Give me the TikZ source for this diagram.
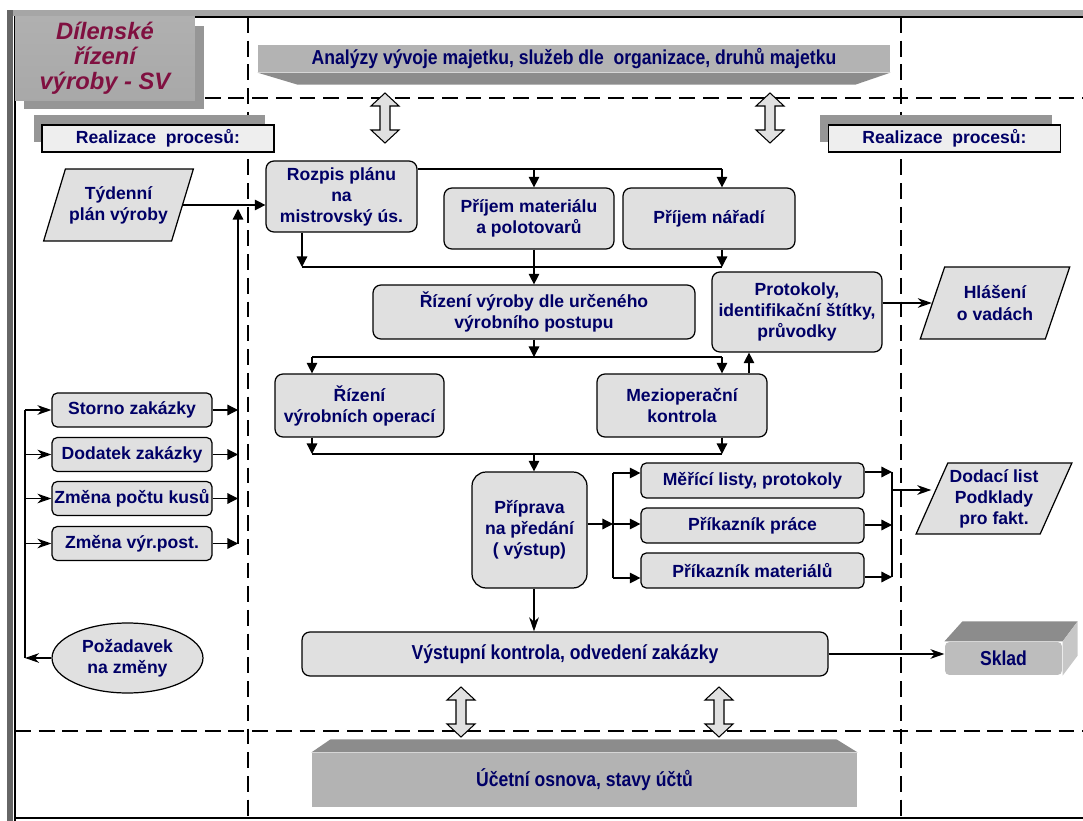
\documentclass[tikz,border=0pt]{standalone}
\usepackage{fontspec}
\setmainfont{Liberation Sans}
\newfontfamily\narrowsans[FakeStretch=0.87]{Liberation Sans}
\usepackage{tikz}
\usetikzlibrary{shapes.geometric, arrows.meta, calc, shadows}

\definecolor{textnavy}{RGB}{0,0,102}
\definecolor{titlered}{RGB}{128,16,64}
\definecolor{boxgray}{RGB}{224,224,224}
\definecolor{labelgray}{RGB}{238,238,238}
\definecolor{slabgray}{RGB}{179,179,179}
\definecolor{bevelgray}{RGB}{140,140,140}
\definecolor{shadowgray}{RGB}{150,150,150}

\begin{document}
\begin{tikzpicture}[
  x=0.02cm, y=-0.02cm,
  line width=0.7pt,
  every node/.style={font=\fontsize{10}{12}\selectfont\bfseries, text=textnavy},
  proc/.style={rectangle, draw, fill=boxgray, rounded corners=4.5pt, align=center, inner sep=1pt},
  smallproc/.style={proc, rounded corners=3pt, minimum width=3.2cm, minimum height=0.68cm},
  listproc/.style={proc, rounded corners=3pt, minimum width=4.46cm, minimum height=0.7cm},
  datain/.style={trapezium, trapezium left angle=63, trapezium right angle=117, trapezium stretches=true, draw, fill=boxgray, align=center, inner sep=1pt},
  realbox/.style={rectangle, draw, fill=labelgray, minimum width=4.64cm, minimum height=0.54cm, inner sep=0pt, general shadow={fill=shadowgray, shadow xshift=-0.17cm, shadow yshift=0.2cm}},
  titlebox/.style={rectangle, minimum width=3.6cm, minimum height=1.62cm, top color=gray!62, middle color=gray!24, bottom color=gray!68, align=center, text=titlered, font=\fontsize{13.5}{14.2}\selectfont\bfseries\itshape, general shadow={fill=shadowgray, shadow xshift=0.18cm, shadow yshift=-0.18cm}},
  slab/.style={rectangle, fill=slabgray, inner sep=0pt, font=\narrowsans\fontsize{11.5}{13}\selectfont\bfseries},
  bevel/.style={fill=bevelgray},
  divider/.style={line width=1.7pt, dash pattern=on 9pt off 4.5pt},
  arr/.style={-{Triangle[length=6pt,width=6pt]}},
  oarr/.style={-{Stealth[length=8pt,width=5.5pt,inset=2.5pt]}},
  updown/.pic={\draw[fill=boxgray, line width=0.6pt] (0,-25) -- (14,-12) -- (5,-12) -- (5,12) -- (14,12) -- (0,25) -- (-14,12) -- (-5,12) -- (-5,-12) -- (-14,-12) -- cycle;}
]
\useasboundingbox (0,0) rectangle (1083,821);

\fill[black!35] (7,10) rectangle (1083,16);
\fill[black!60] (7,10) rectangle (13,821);
\draw[line width=1.2pt] (15,821) -- (15,17) -- (1083,17);
\draw[line width=1.6pt] (15,818) -- (1083,818);

\draw[divider] (15,98) -- (1083,98);
\draw[divider] (15,731) -- (1083,731);
\draw[divider] (248,17) -- (248,818);
\draw[divider] (901,17) -- (901,818);

\node[titlebox] (title) at (105,58.5) {Dílenské\\řízení\\výroby - SV};

\node[slab, minimum width=12.64cm, minimum height=0.54cm] (analyzy) at (574,58.5) {Analýzy vývoje majetku, služeb dle\ \ organizace, druhů majetku};
\fill[bevel] (analyzy.south west) -- (analyzy.south east) -- ($(analyzy.south east)+(-35,12)$) -- ($(analyzy.south west)+(40,12)$) -- cycle;

\node[slab, minimum width=10.9cm, minimum height=1.08cm] (ucetni) at (584.5,780) {Účetní osnova, stavy účtů};
\fill[bevel] (ucetni.north west) -- ($(ucetni.north west)+(19,-13)$) -- ($(ucetni.north east)+(-21,-13)$) -- (ucetni.north east) -- cycle;

\pic at (385,118) {updown};
\pic at (770,118) {updown};
\pic at (461,712) {updown};
\pic at (719,712) {updown};

\node[realbox] (realleft) at (158,138.5) {Realizace\ \ procesů:};
\node[realbox] (realright) at (944.5,138.5) {Realizace\ \ procesů:};

\node[proc, minimum width=3.02cm, minimum height=1.42cm] (rozpis) at (341.5,196.5) {Rozpis plánu\\na\\mistrovský ús.};
\node[proc, minimum width=3.4cm, minimum height=1.22cm] (prijmat) at (529,218.5) {Příjem materiálu\\a polotovarů};
\node[proc, minimum width=3.44cm, minimum height=1.22cm] (naradi) at (709,218.5) {Příjem nářadí};
\node[proc, minimum width=6.44cm, minimum height=1.08cm] (rizeni) at (534,312) {Řízení výroby dle určeného\\výrobního postupu};
\node[proc, minimum width=3.4cm, minimum height=1.6cm] (protokoly) at (797,312) {Protokoly,\\identifikační štítky,\\průvodky};
\node[proc, minimum width=3.38cm, minimum height=1.26cm] (oper) at (359.5,405.5) {Řízení\\výrobních operací};
\node[proc, minimum width=3.4cm, minimum height=1.26cm] (mezi) at (682,405.5) {Mezioperační\\kontrola};
\node[proc, rounded corners=8pt, minimum width=2.3cm, minimum height=2.32cm] (priprava) at (529.5,530) {Příprava\\na předání\\( výstup)};
\node[listproc] (meri) at (752.5,480.5) {Měřící listy, protokoly};
\node[listproc] (prikprace) at (752.5,525.5) {Příkazník práce};
\node[listproc] (prikmat) at (752.5,570.5) {Příkazník materiálů};
\node[proc, minimum width=10.52cm, minimum height=0.88cm, font=\narrowsans\fontsize{11.5}{13}\selectfont\bfseries] (vystup) at (565,654) {Výstupní kontrola, odvedení zakázky};

\node[datain, minimum width=3.02cm, minimum height=1.44cm] (tydenni) at (118.5,205) {Týdenní\\plán výroby};
\node[smallproc] (storno) at (132,410) {Storno zakázky};
\node[smallproc] (dodatek) at (132,454.5) {Dodatek zakázky};
\node[smallproc] (pocet) at (132,498.5) {Změna počtu kusů};
\node[smallproc] (zmenavyr) at (132,543.5) {Změna výr.post.};
\node[ellipse, draw, fill=boxgray, minimum width=3.02cm, minimum height=1.4cm, align=center, inner sep=0pt] (pozadavek) at (127.5,658) {Požadavek\\na změny};

\node[datain, minimum width=3cm, minimum height=1.44cm] (hlaseni) at (995,303) {Hlášení\\o vadách};
\node[datain, minimum width=3.04cm, minimum height=1.42cm] (dodaci) at (994,498.5) {Dodací list\\Podklady\\pro fakt.};

\node[slab, fill=gray!52, rounded corners=2.5pt, minimum width=2.34cm, minimum height=0.66cm] (sklad) at (1003.5,658.5) {Sklad};
\fill[bevel] (sklad.north west) -- ($(sklad.north west)+(18,-20)$) -- ($(sklad.north east)+(15,-20)$) -- (sklad.north east) -- cycle;
\fill[gray!44] (sklad.north east) -- ($(sklad.north east)+(15,-20)$) -- ($(sklad.south east)+(15,-20)$) -- (sklad.south east) -- cycle;

\coordinate (t1) at (534,169);
\coordinate (t2) at (722,169);
\draw (rozpis.east |- t1) -- (t2);
\draw[arr] (t1) -- (t1 |- prijmat.north);
\draw[arr] (t2) -- (t2 |- naradi.north);

\coordinate (a1) at (302,267);
\coordinate (a2) at (534,267);
\coordinate (a3) at (722,267);
\draw[arr] (a1 |- rozpis.south) -- (a1);
\draw[arr] (a3 |- naradi.south) -- (a3);
\draw (a1) -- (a3);
\draw[arr] (a2 |- prijmat.south) -- (a2 |- rizeni.north);

\coordinate (b1) at (312,357);
\coordinate (b2) at (534,357);
\coordinate (b3) at (722,357);
\draw[arr] (rizeni.south) -- (b2);
\draw (b1) -- (b3);
\draw[arr] (b1) -- (b1 |- oper.north);
\draw[arr] (b3) -- (b3 |- mezi.north);
\coordinate (p1) at (749,0);
\draw[arr] (p1 |- mezi.north) -- (p1 |- protokoly.south);
\draw[oarr] (protokoly.east |- hlaseni.west) -- (hlaseni.west);

\coordinate (c1) at (312,454);
\coordinate (c2) at (534,454);
\coordinate (c3) at (722,454);
\draw[arr] (b1 |- oper.south) -- (c1);
\draw[arr] (b3 |- mezi.south) -- (c3);
\draw (c1) -- (c3);
\draw[arr] (c2) -- (c2 |- priprava.north);

\coordinate (d0) at (613,524);
\coordinate (d1) at (613,473);
\coordinate (d3) at (613,578);
\draw[arr] (priprava.east |- d0) -- (d0);
\draw (d1) -- (d3);
\draw[arr] (d1) -- (d1 -| meri.west);
\draw[arr] (d0) -- (d0 -| prikprace.west);
\draw[arr] (d3) -- (d3 -| prikmat.west);

\coordinate (e0) at (892,490);
\coordinate (e1) at (892,472);
\coordinate (e2) at (892,525);
\coordinate (e3) at (892,577);
\draw[arr] (meri.east |- e1) -- (e1);
\draw[arr] (prikprace.east |- e2) -- (e2);
\draw[arr] (prikmat.east |- e3) -- (e3);
\draw (e1) -- (e3);
\draw[oarr] (e0) -- (e0 -| dodaci.west);

\draw[oarr] (c2 |- priprava.south) -- (c2 |- vystup.north);
\draw[oarr] (vystup.east) -- (vystup.east -| sklad.west);

\draw[arr] (tydenni.east) -- (tydenni.east -| rozpis.west);
\coordinate (l0) at (238,209);
\draw[arr] (l0 |- zmenavyr.east) -- (l0);
\draw[arr] (storno.east) -- (storno.east -| l0);
\draw[arr] (dodatek.east) -- (dodatek.east -| l0);
\draw[arr] (pocet.east) -- (pocet.east -| l0);
\draw[arr] (zmenavyr.east) -- (zmenavyr.east -| l0);

\coordinate (r0) at (25,0);
\draw[oarr] (pozadavek.west) -- (pozadavek.west -| r0);
\draw (r0 |- pozadavek.west) -- (r0 |- storno.west);
\draw[oarr] (r0 |- storno.west) -- (storno.west);
\draw[oarr] (r0 |- dodatek.west) -- (dodatek.west);
\draw[oarr] (r0 |- pocet.west) -- (pocet.west);
\draw[oarr] (r0 |- zmenavyr.west) -- (zmenavyr.west);

\end{tikzpicture}
\end{document}
